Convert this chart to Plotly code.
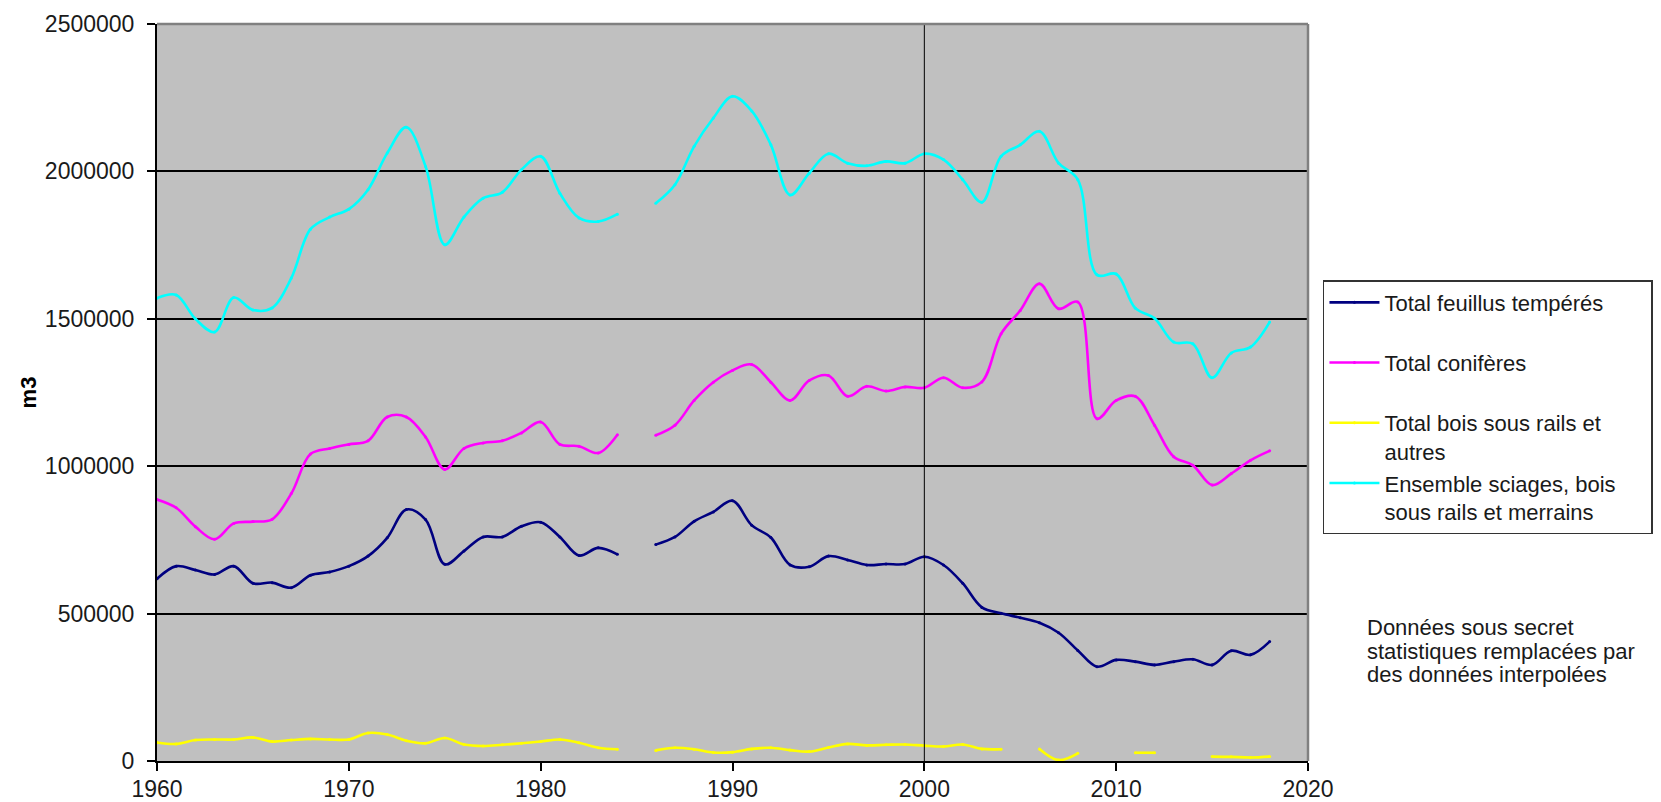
import plotly.graph_objects as go

years = list(range(1960, 2019))

feuillus = [618000, 661000, 648000, 633000, 661000, 603000, 605000, 588000, 630000, 641000,
            661000, 695000, 757000, 853000, 819000, 667000, 712000, 760000, 760000, 796000,
            810000, 760000, 697000, 723000, 701000, None, 734000, 760000, 813000, 845000,
            883000, 800000, 758000, 665000, 659000, 695000, 682000, 665000, 668000, 668000,
            693000, 665000, 603000, 521000, 501000, 486000, 469000, 435000, 375000, 320000,
            343000, 337000, 326000, 337000, 345000, 326000, 374000, 360000, 405000]

coniferes = [887000, 859000, 795000, 752000, 806000, 812000, 820000, 907000, 1041000, 1060000,
             1074000, 1086000, 1167000, 1167000, 1099000, 989000, 1060000, 1079000, 1086000, 1113000,
             1150000, 1074000, 1068000, 1045000, 1107000, None, 1105000, 1139000, 1223000, 1285000,
             1325000, 1345000, 1285000, 1223000, 1291000, 1308000, 1237000, 1271000, 1255000, 1269000,
             1266000, 1300000, 1266000, 1286000, 1449000, 1528000, 1619000, 1534000, 1557000, 1161000,
             1223000, 1237000, 1139000, 1032000, 1003000, 936000, 975000, 1020000, 1052000]

rails = [63000, 58000, 71000, 73000, 73000, 80000, 66000, 71000, 75000, 73000,
         73000, 95000, 90000, 69000, 60000, 78000, 56000, 51000, 55000, 60000,
         66000, 73000, 62000, 45000, 40000, None, 36000, 45000, 40000, 29000,
         30000, 41000, 45000, 37000, 32000, 46000, 58000, 53000, 55000, 56000,
         52000, 49000, 56000, 41000, 40000, None, 41000, 3000, 26000, None,
         None, 28000, 28000, None, None, 15000, 14000, 12000, 15000]

ensemble = [1570000, 1581000, 1500000, 1455000, 1572000, 1530000, 1537000, 1638000, 1804000, 1845000,
            1872000, 1938000, 2062000, 2150000, 2017000, 1751000, 1845000, 1909000, 1929000, 2006000,
            2051000, 1926000, 1842000, 1830000, 1855000, None, 1892000, 1955000, 2085000, 2181000,
            2255000, 2205000, 2090000, 1920000, 1994000, 2060000, 2028000, 2019000, 2034000, 2028000,
            2060000, 2040000, 1972000, 1895000, 2051000, 2090000, 2136000, 2028000, 1972000, 1649000,
            1652000, 1536000, 1502000, 1421000, 1415000, 1300000, 1384000, 1404000, 1489000]

# legend labels; single-line labels get an empty second line so every entry takes the same slot
PAD = "\u00a0" * 5  # widens the legend box like the reference
series_names = ["Total feuillus tempérés<br> ", "Total conifères<br> ",
                "Total bois sous rails et<br>autres",
                "Ensemble sciages, bois" + PAD + "<br>sous rails et merrains"]
series_values = [feuillus, coniferes, rails, ensemble]
series_colors = ["#000080", "#FF00FF", "#FFFF00", "#00FFFF"]

y_ticks = [0, 500000, 1000000, 1500000, 2000000, 2500000]
x_ticks = [1960, 1970, 1980, 1990, 2000, 2010, 2020]
reference_year = 2000
note_lines = ["Données sous secret", "statistiques remplacées par", "des données interpolées"]

FONT = "Liberation Sans, Arial, sans-serif"

fig = go.Figure()
for i, (name, vals, col) in enumerate(zip(series_names, series_values, series_colors)):
    assert len(vals) == len(years)
    fig.add_trace(go.Scatter(
        x=years, y=vals, name=name, mode="lines+markers",
        line=dict(color=col, width=2.6, shape="spline", smoothing=1.0),
        marker=dict(color=col, size=3),
        connectgaps=False, legendgroup=f"g{i}",
    ))

fig.add_vline(x=reference_year, line=dict(color="black", width=1))

# gray plot-area border on top and right
fig.add_shape(type="line", xref="paper", yref="paper", x0=0, x1=1, y0=1, y1=1,
              line=dict(color="#808080", width=2.5))
fig.add_shape(type="line", xref="paper", yref="paper", x0=1, x1=1, y0=0, y1=1,
              line=dict(color="#808080", width=2.5))

note_y = [0.1805, 0.1479, 0.1167]
for txt, yy in zip(note_lines, note_y):
    fig.add_annotation(text=txt, xref="paper", yref="paper", x=1.0495, y=yy,
                       xanchor="left", yanchor="middle", showarrow=False,
                       font=dict(family=FONT, size=22, color="#1a1a1a"))

fig.update_layout(
    width=1661, height=802,
    margin=dict(l=157, r=353, t=24, b=41, autoexpand=False),
    paper_bgcolor="white", plot_bgcolor="#C0C0C0",
    font=dict(family=FONT, size=23, color="#1a1a1a"),
    legend=dict(x=1.013, y=0.6526, xanchor="left", yanchor="top",
                bgcolor="white", bordercolor="#333333", borderwidth=1.5,
                font=dict(family=FONT, size=22, color="#1a1a1a"),
                traceorder="grouped", tracegroupgap=0, valign="top",
                itemwidth=50),
    xaxis=dict(range=[1960, 2020], tickvals=x_ticks, tickformat="d",
               showgrid=False, zeroline=False, showline=True, linecolor="black",
               linewidth=2, ticks="outside", ticklen=8, tickcolor="black", tickwidth=2,
               ticklabelstandoff=-2, tickfont=dict(family=FONT, size=23, color="#1a1a1a")),
    yaxis=dict(range=[0, 2500000], tickvals=y_ticks, tickformat="d",
               showgrid=True, gridcolor="black", gridwidth=1.5, zeroline=False,
               showline=True, linecolor="black", linewidth=2, ticks="outside",
               ticklen=8, tickcolor="black", tickwidth=2, ticklabelstandoff=8,
               tickfont=dict(family=FONT, size=23, color="#1a1a1a"),
               title=dict(text="<b>m3</b>", standoff=2,
                          font=dict(family=FONT, size=22, color="black"))),
)

fig.write_html("out.html", config={"displayModeBar": False},
               post_script="document.body.style.margin='0px';document.body.style.padding='0px';")
